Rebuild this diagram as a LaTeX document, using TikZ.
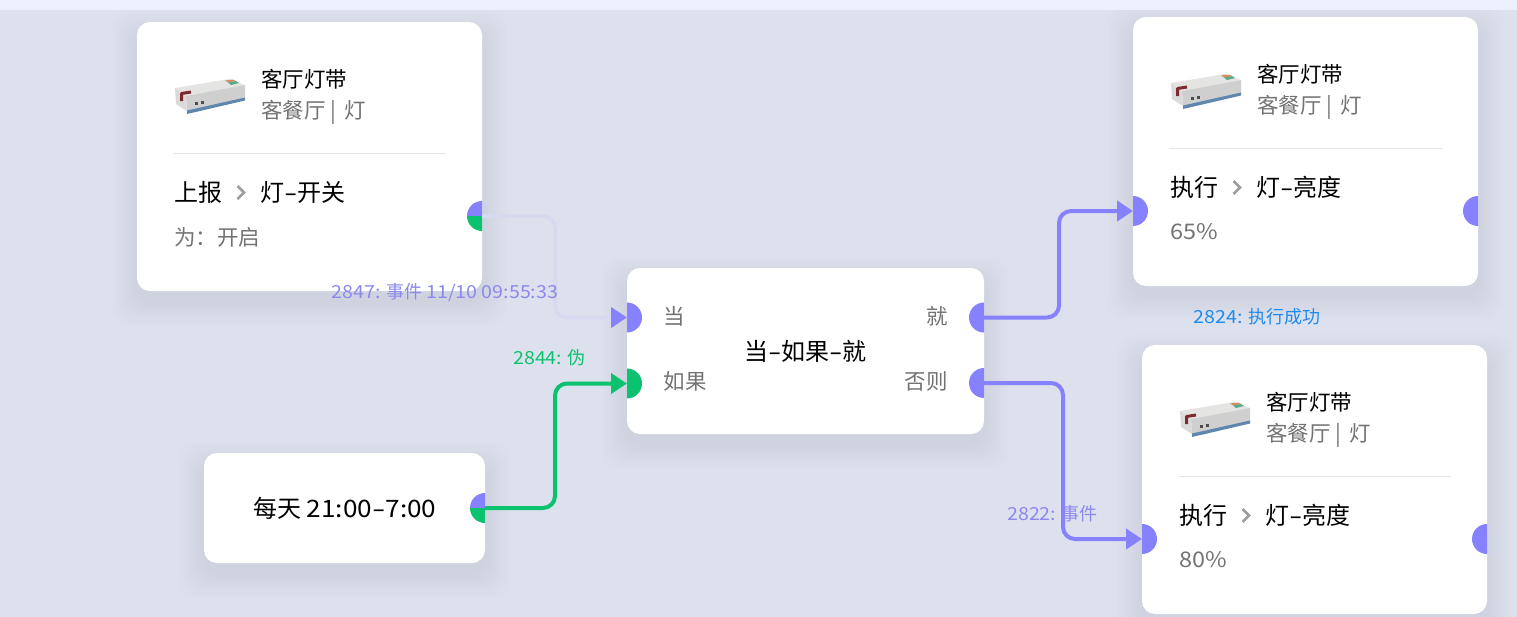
\documentclass[tikz,border=0pt]{standalone}
\usepackage{fontspec}
\setmainfont{Noto Sans CJK SC}
\newfontfamily\wdf[FakeStretch=1.09]{Noto Sans CJK SC}
\newfontfamily\hyf[FakeStretch=1.6]{Noto Sans CJK SC}
\usetikzlibrary{arrows.meta}
\definecolor{bgc}{HTML}{DDE1ED}
\definecolor{topc}{HTML}{ECEFFC}
\definecolor{portp}{HTML}{8581FF}
\definecolor{portg}{HTML}{0BC26F}
\definecolor{faint}{HTML}{D6DAF0}
\definecolor{lblp}{HTML}{8C89EE}
\definecolor{lblb}{HTML}{1E8BF0}
\definecolor{grayt}{HTML}{737373}
\definecolor{divc}{HTML}{E6E6E6}
\definecolor{chev}{HTML}{9E9E9E}
\definecolor{shc}{HTML}{9EA6BE}
\definecolor{HTMLtop}{HTML}{E4E4E2}
\definecolor{HTMLfront}{HTML}{CFCFCF}
\definecolor{HTMLside}{HTML}{DADADA}
\definecolor{HTMLblue}{HTML}{5F86AC}
\definecolor{HTMLred}{HTML}{7E2A30}
\definecolor{HTMLor}{HTML}{D98C60}
\definecolor{HTMLgr}{HTML}{5BAA8C}
\newcommand{\fsz}[1]{\fontsize{#1pt}{#1pt}\selectfont}
\newcommand{\hy}{{\hyf -}}
\newcommand{\lat}[1]{{\wdf #1}}
\tikzset{
  x=1pt,y=-1pt,
  cardbox/.style={fill=white,draw=none,rounded corners=13pt,inner sep=0pt,outer sep=0pt,anchor=north west},
  txt/.style={anchor=west,inner sep=0pt,outer sep=0pt},
  ttl/.style={txt,font=\fsz{21.5},text=black},
  sub/.style={txt,font=\fsz{21.5},text=grayt},
  big/.style={txt,font=\fsz{24},text=black},
  lbl/.style={inner sep=0pt,outer sep=0pt,anchor=center,font=\fsz{18}},
  conn/.style={line width=4pt,rounded corners=12pt},
  tipp/.style={-{Triangle[length=16pt,width=20pt,color=portp]}},
  tipg/.style={-{Triangle[length=16pt,width=20pt,color=portg]}},
  device/.pic={
    \fill[HTMLtop] (175,88) -- (229,79) -- (245,85) -- (186,96) -- cycle;
    \fill[HTMLfront] (186,96) -- (245,85) -- (245,98) -- (187,111) -- cycle;
    \fill[HTMLside] (175,88) -- (186,96) -- (187,111) -- (176,104) -- cycle;
    \fill[HTMLblue] (187,110.5) -- (245,97.5) -- (245,100.5) -- (187,114) -- cycle;
    \draw[HTMLred,line width=3pt,line join=round] (181.5,101) -- (181.5,93.5) -- (191,92);
    \fill[HTMLor] (225,80.5) -- (233,79.5) -- (236,81) -- (228,82.5) -- cycle;
    \fill[HTMLgr] (228,82.5) -- (236,81) -- (239,83) -- (231,85) -- cycle;
    \fill[black!70] (194.5,102) rectangle (198,105);
    \fill[black!70] (200.5,101) rectangle (204,104);
  }
}
% soft shadow under a card: x, y, width, height
\newcommand{\softshadow}[4]{%
  \foreach \k in {1,...,14}{%
    \fill[shc,opacity=0.012,rounded corners=18pt]
      ({#1-\k*1.8},{#2+14-\k*1.8}) rectangle ({#1+#3+\k*1.8},{#2+#4+10+\k*1.8});
  }%
}
% half-round ports: name, x, y
\newcommand{\portright}[4]{%
  \coordinate (#1) at (#2,#3);
  \begin{scope}\clip (#2,#3-16) rectangle (#2+16,#3+16);
    \fill[#4] (#1) circle[radius=15pt];
  \end{scope}}
\newcommand{\portleft}[4]{%
  \coordinate (#1) at (#2,#3);
  \begin{scope}\clip (#2-16,#3-16) rectangle (#2,#3+16);
    \fill[#4] (#1) circle[radius=15pt];
  \end{scope}}
\newcommand{\portsplit}[3]{%
  \coordinate (#1) at (#2,#3);
  \begin{scope}\clip (#2-16,#3-16) rectangle (#2,#3);
    \fill[portp] (#1) circle[radius=15pt];
  \end{scope}
  \begin{scope}\clip (#2-16,#3) rectangle (#2,#3+16);
    \fill[portg] (#1) circle[radius=15pt];
  \end{scope}}
% device card body, drawn in the frame of the top-left card
\newcommand{\devcard}[4]{% prefix, verb, target, value
  \node[cardbox,minimum width=345pt,minimum height=269pt] (#1card) at (137,22) {};
  \pic {device};
  \node[ttl] (#1name) at (261,79) {客厅灯带};
  \node[sub] (#1room) at (261,112.5) {客餐厅 | \kern4pt 灯};
  \coordinate (#1da) at (173,153.5);
  \coordinate (#1db) at (446,153.5);
  \draw[divc,line width=1pt] (#1da) -- (#1db);
  \node[big] (#1verb) at (174.5,192) {#2};
  \draw[chev,line width=2.6pt] (237.5,186) -- (244,192.5) -- (237.5,199);
  \node[big] (#1target) at (260,192) {#3};
  \node[sub] (#1value) at (174,237) {#4};
}
\begin{document}
\begin{tikzpicture}
\useasboundingbox (0,0) rectangle (1517,616);
\fill[bgc] (-2,-2) rectangle (1519,622);
% shadows
\softshadow{137}{22}{345}{269}
\softshadow{204}{453}{281}{110}
\softshadow{627}{268}{357}{166}
\softshadow{1133}{17}{345}{268}
\softshadow{1142}{345}{345}{269}
\fill[topc] (-2,-2) rectangle (1519,10);
% cards
\begin{scope}
  \devcard{a}{上报}{灯\hy 开关}{为：开启}
\end{scope}
\node[cardbox,minimum width=281pt,minimum height=110pt] (timer) at (204,453) {};
\node[big,anchor=center] (timertext) at (345,508) {每天 \lat{21:00}\hy\lat{7:00}};
\node[cardbox,minimum width=357pt,minimum height=166pt] (logic) at (627,268) {};
\node[big,anchor=center] (logictitle) at (805.5,351) {当\hy 如果\hy 就};
\node[sub] (when) at (663.5,316) {当};
\node[sub] (ifl) at (663.5,381) {如果};
\node[sub,anchor=east] (then) at (947.5,316) {就};
\node[sub,anchor=east] (elsel) at (947.5,381) {否则};
\begin{scope}[shift={(996,-5)}]
  \devcard{b}{执行}{灯\hy 亮度}{\lat{65\%}}
\end{scope}
\begin{scope}[shift={(1005,323)}]
  \devcard{c}{执行}{灯\hy 亮度}{\lat{80\%}}
\end{scope}
% ports
\portsplit{aout}{482}{216}
\portsplit{tout}{485}{508}
\portright{lwhen}{627}{317.5}{portp}
\portright{lif}{627}{383.5}{portg}
\portleft{lthen}{984}{317.5}{portp}
\portleft{lelse}{984}{383}{portp}
\portright{bin}{1133}{211}{portp}
\portleft{bout}{1478}{211}{portp}
\portright{cin}{1142}{539}{portp}
\portleft{cout}{1487}{539}{portp}
% connectors
\coordinate (m1) at (555,270);
\coordinate (m2) at (555,440);
\coordinate (m3) at (1059,260);
\coordinate (m4) at (1063,460);
\draw[conn,faint,tipp] (aout) -| (m1) |- (lwhen);
\draw[conn,portg,tipg] (tout) -| (m2) |- (lif);
\draw[conn,portp,tipp] (lthen) -| (m3) |- (bin);
\draw[conn,portp,tipp] (lelse) -| (m4) |- (cin);
% connector labels
\node[lbl,text=lblp] (l1) at (445,293) {\lat{2847:} 事件 \lat{11/10 09:55:33}};
\node[lbl,text=portg] (l2) at (549.5,358) {\lat{2844:} 伪};
\node[lbl,text=lblb] (l3) at (1257,317) {\lat{2824:} 执行成功};
\node[lbl,text=lblp] (l4) at (1052.5,514) {\lat{2822:} 事件};
\end{tikzpicture}
\end{document}
